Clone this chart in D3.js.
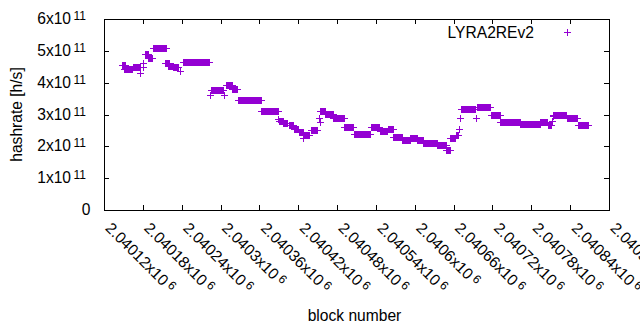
<!DOCTYPE html>
<html>
<head>
<meta charset="utf-8">
<script src="https://cdn.jsdelivr.net/npm/d3@7"></script>
<style>
body { margin: 0; background: #fff; }
text { font-family: "Liberation Sans", Arial, sans-serif; fill: #000; }
</style>
</head>
<body>
<script>
let w = 640;
let h = 330;

// hashrate runs: a value held over a range of blocks (values in 1e11 h/s)
let runStart = [2040148, 2040151, 2040165, 2040176, 2040180, 2040181, 2040183, 2040188, 2040196, 2040214,
                2040219, 2040227, 2040237, 2040242, 2040283, 2040286, 2040305, 2040308, 2040318, 2040327,
                2040363, 2040389, 2040390, 2040396, 2040405, 2040413, 2040421, 2040428, 2040429, 2040439,
                2040452, 2040453, 2040454, 2040462, 2040474, 2040491, 2040506, 2040533, 2040546, 2040558,
                2040567, 2040581, 2040593, 2040604, 2040613, 2040635, 2040649, 2040655, 2040663, 2040668,
                2040670, 2040672, 2040694, 2040696, 2040717, 2040732, 2040743, 2040763, 2040794, 2040806,
                2040812, 2040813, 2040814, 2040822, 2040835, 2040852];
let runEnd   = [2040152, 2040163, 2040175, 2040176, 2040180, 2040181, 2040188, 2040194, 2040215, 2040220,
                2040226, 2040234, 2040237, 2040282, 2040283, 2040304, 2040305, 2040318, 2040326, 2040362,
                2040388, 2040389, 2040396, 2040403, 2040412, 2040420, 2040428, 2040428, 2040437, 2040449,
                2040452, 2040453, 2040462, 2040473, 2040490, 2040505, 2040531, 2040545, 2040557, 2040566,
                2040580, 2040592, 2040603, 2040612, 2040634, 2040648, 2040654, 2040662, 2040667, 2040668,
                2040670, 2040693, 2040694, 2040716, 2040731, 2040742, 2040762, 2040793, 2040805, 2040811,
                2040812, 2040813, 2040821, 2040834, 2040850, 2040867];
let runValue = [4.55, 4.43, 4.50, 4.30, 4.62, 4.50, 4.90, 4.78, 5.10, 4.62,
                4.53, 4.48, 4.38, 4.64, 3.60, 3.78, 3.62, 3.94, 3.81, 3.44,
                3.10, 2.86, 2.81, 2.72, 2.66, 2.56, 2.44, 2.25, 2.37, 2.50,
                2.90, 2.75, 3.10, 3.03, 2.90, 2.62, 2.38, 2.62, 2.48, 2.53,
                2.28, 2.19, 2.25, 2.19, 2.09, 2.03, 1.90, 2.25, 2.37, 2.53,
                2.90, 3.16, 2.90, 3.25, 3.00, 2.75, 2.78, 2.69, 2.75, 2.66,
                2.80, 2.95, 3.00, 2.97, 2.88, 2.66];

let xTickValues = [2040120, 2040180, 2040240, 2040300, 2040360, 2040420, 2040480,
                   2040540, 2040600, 2040660, 2040720, 2040780, 2040840, 2040900];
let xTickLabels = ["2.04012", "2.04018", "2.04024", "2.0403", "2.04036", "2.04042", "2.04048",
                   "2.04054", "2.0406", "2.04066", "2.04072", "2.04078", "2.04084", "2.0409"];
let yTickValues = [0, 1e11, 2e11, 3e11, 4e11, 5e11, 6e11];
let yTickLabels = ["0", "1", "2", "3", "4", "5", "6"];

let color = "#9400d3";
let fs = 15.6;
let supFs = 12;

let points = [];
runStart.forEach(function(s, i) {
    for (let b = s; b <= runEnd[i]; b++) {
        points.push({block: b, value: runValue[i] * 1e11});
    }
});

let xScale = d3.scaleLinear()
               .domain([2040120, 2040900])
               .range([104, 609]);
let yScale = d3.scaleLinear()
               .domain([0, 6e11])
               .range([210, 19]);

let svg = d3.select("body")
            .append("svg")
            .attr("width", w)
            .attr("height", h);

// axes with inward ticks on all four sides
svg.append("g")
   .attr("transform", "translate(0,210)")
   .call(d3.axisBottom(xScale).tickValues(xTickValues).tickSizeInner(-5).tickSizeOuter(0).tickFormat(""));
svg.append("g")
   .attr("transform", "translate(0,19)")
   .call(d3.axisTop(xScale).tickValues(xTickValues).tickSizeInner(-5).tickSizeOuter(0).tickFormat(""));
svg.append("g")
   .attr("transform", "translate(104,0)")
   .call(d3.axisLeft(yScale).tickValues(yTickValues).tickSizeInner(-5).tickSizeOuter(0).tickFormat(""));
svg.append("g")
   .attr("transform", "translate(609,0)")
   .call(d3.axisRight(yScale).tickValues(yTickValues).tickSizeInner(-5).tickSizeOuter(0).tickFormat(""));
svg.selectAll(".domain, .tick line")
   .attr("stroke", "#000")
   .attr("shape-rendering", "crispEdges");

// y tick labels
svg.selectAll(".ylab")
   .data(yTickValues)
   .enter()
   .append("text")
   .attr("class", "ylab")
   .attr("text-anchor", "end")
   .attr("font-size", fs + "px")
   .attr("x", function(d) { return d === 0 ? 90.5 : 86; })
   .attr("y", function(d) { return yScale(d) + 5; })
   .each(function(d, i) {
       let t = d3.select(this);
       if (d === 0) {
           t.text(yTickLabels[i]);
           return;
       }
       t.append("tspan").text(yTickLabels[i] + "x10");
       t.append("tspan").attr("font-size", supFs + "px").attr("dx", 2.5).attr("dy", -4).text("11");
   });

// x tick labels, rotated
svg.selectAll(".xlab")
   .data(xTickValues)
   .enter()
   .append("text")
   .attr("class", "xlab")
   .attr("font-size", fs + "px")
   .attr("transform", function(d) {
       return "translate(" + (xScale(d) + 0.5) + ",229) rotate(45)";
   })
   .each(function(d, i) {
       let t = d3.select(this);
       t.append("tspan").text(xTickLabels[i] + "x10");
       t.append("tspan").attr("font-size", supFs + "px").attr("dx", 3).attr("dy", -4).text("6");
   });

// axis titles
svg.append("text")
   .attr("font-size", fs + "px")
   .attr("text-anchor", "middle")
   .attr("transform", "translate(22,114.5) rotate(-90)")
   .text("hashrate [h/s]");
svg.append("text")
   .attr("font-size", fs + "px")
   .attr("text-anchor", "middle")
   .attr("x", 354.5)
   .attr("y", 320.5)
   .text("block number");

// points
let plus = "M-3.5,0H3.5M0,-3.5V3.5";
svg.append("g")
   .selectAll("path")
   .data(points)
   .enter()
   .append("path")
   .attr("d", plus)
   .attr("transform", function(d) {
       return "translate(" + (Math.round(xScale(d.block)) + 0.5) + "," + (Math.round(yScale(d.value)) + 0.5) + ")";
   })
   .attr("fill", "none")
   .attr("stroke", color)
   .attr("stroke-width", 1)
   .attr("shape-rendering", "crispEdges");

// legend
svg.append("text")
   .attr("font-size", fs + "px")
   .attr("text-anchor", "end")
   .attr("x", 534)
   .attr("y", 37.5)
   .text("LYRA2REv2");
svg.append("path")
   .attr("d", plus)
   .attr("transform", "translate(567.5,32.5)")
   .attr("fill", "none")
   .attr("stroke", color)
   .attr("shape-rendering", "crispEdges");
</script>
</body>
</html>
